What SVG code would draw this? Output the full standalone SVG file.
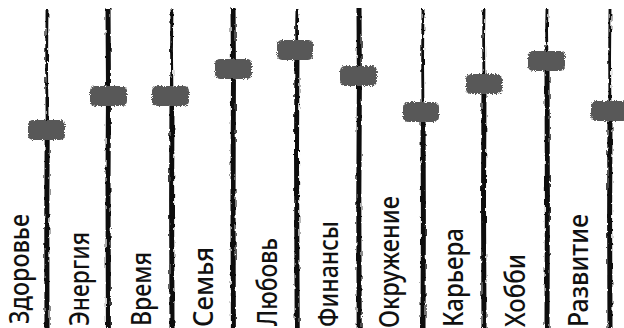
<svg xmlns="http://www.w3.org/2000/svg" width="624" height="328" viewBox="0 0 624 328">
  <style>
    .rail { fill: none; stroke: #0a0a0a; stroke-linecap: butt; }
    .thin { stroke-width: 2.8; }
    .thick { stroke-width: 5; }
    .knob { fill: #585858; }
    .label { font-family: "Noto Sans", "Open Sans", "DejaVu Sans", sans-serif; font-size: 27px; font-weight: 500; fill: #111; }
  </style>
  <defs>
    <!-- ink-like ragged edge for the rails -->
    <filter id="rough" filterUnits="userSpaceOnUse" x="0" y="0" width="624" height="328">
      <feTurbulence type="fractalNoise" baseFrequency="0.5 0.15" numOctaves="2" seed="3" result="n"/>
      <feDisplacementMap in="SourceGraphic" in2="n" scale="3.5" xChannelSelector="R" yChannelSelector="G"/>
    </filter>
    <!-- grainy edge for the slider knobs -->
    <filter id="grain" filterUnits="userSpaceOnUse" x="0" y="0" width="624" height="328">
      <feTurbulence type="fractalNoise" baseFrequency="0.9" numOctaves="2" seed="8" result="n"/>
      <feDisplacementMap in="SourceGraphic" in2="n" scale="4" xChannelSelector="R" yChannelSelector="G" result="d"/>
      <feGaussianBlur in="d" stdDeviation="0.5"/>
    </filter>
  </defs>

  <!-- rails: upper part above the knob, lower part below -->
  <g id="connectors" filter="url(#rough)">
    <path class="rail thin"  d="M47 9 L46.6 70 L47.2 130"/>
    <path class="rail thick" d="M47.2 130 L46.8 220 L47 328"/>
    <path class="rail thick" d="M108 8 L108.5 90 L108 180 L108.4 328"/>
    <path class="rail thin"  d="M172 9 L171.5 50 L172 96"/>
    <path class="rail thick" d="M172 96 L171.6 200 L172 328"/>
    <path class="rail thick" d="M233 8 L233.5 70 L233 200 L233.4 328"/>
    <path class="rail thin"  d="M297 9 L296.5 30 L297 49"/>
    <path class="rail thick" d="M297 49 L296.5 150 L297.2 328"/>
    <path class="rail thick" d="M359 8 L359.4 80 L358.8 200 L359.2 328"/>
    <path class="rail thin"  d="M423 9 L422.6 60 L423 112"/>
    <path class="rail thick" d="M423 112 L423.4 220 L423 328"/>
    <path class="rail thin"  d="M484 9 L483.6 40 L484 84"/>
    <path class="rail thick" d="M484 84 L483.5 200 L484 328"/>
    <path class="rail thin"  d="M547 9 L546.6 30 L547 61"/>
    <path class="rail thick" d="M547 61 L547.4 200 L547 328"/>
    <path class="rail thin"  d="M610 9 L609.6 60 L610 111"/>
    <path class="rail thick" d="M610 111 L609.6 220 L610 328"/>
  </g>

  <g id="zdorovie">
    <rect class="knob" filter="url(#grain)" x="28" y="120" width="37" height="20" rx="5"/>
    <text class="label" transform="translate(29 324) rotate(-90)" textLength="110" lengthAdjust="spacingAndGlyphs">Здоровье</text>
  </g>
  <g id="energiya">
    <rect class="knob" filter="url(#grain)" x="90" y="86" width="37" height="20" rx="5"/>
    <text class="label" transform="translate(89 326) rotate(-90)" textLength="94" lengthAdjust="spacingAndGlyphs">Энергия</text>
  </g>
  <g id="vremya">
    <rect class="knob" filter="url(#grain)" x="152" y="86" width="37" height="20" rx="5"/>
    <text class="label" transform="translate(151 326) rotate(-90)" textLength="74" lengthAdjust="spacingAndGlyphs">Время</text>
  </g>
  <g id="semya">
    <rect class="knob" filter="url(#grain)" x="215" y="59" width="37" height="20" rx="5"/>
    <text class="label" transform="translate(213 327) rotate(-90)" textLength="80" lengthAdjust="spacingAndGlyphs">Семья</text>
  </g>
  <g id="lyubov">
    <rect class="knob" filter="url(#grain)" x="277" y="40" width="36" height="20" rx="5"/>
    <text class="label" transform="translate(277 326) rotate(-90)" textLength="88" lengthAdjust="spacingAndGlyphs">Любовь</text>
  </g>
  <g id="finansy">
    <rect class="knob" filter="url(#grain)" x="340" y="66" width="37" height="20" rx="5"/>
    <text class="label" transform="translate(338 327) rotate(-90)" textLength="106" lengthAdjust="spacingAndGlyphs">Финансы</text>
  </g>
  <g id="okruzhenie">
    <rect class="knob" filter="url(#grain)" x="403" y="102" width="36" height="20" rx="5"/>
    <text class="label" transform="translate(399 328) rotate(-90)" textLength="132" lengthAdjust="spacingAndGlyphs">Окружение</text>
  </g>
  <g id="karera">
    <rect class="knob" filter="url(#grain)" x="466" y="74" width="36" height="20" rx="5"/>
    <text class="label" transform="translate(463 327) rotate(-90)" textLength="99" lengthAdjust="spacingAndGlyphs">Карьера</text>
  </g>
  <g id="khobbi">
    <rect class="knob" filter="url(#grain)" x="528" y="51" width="37" height="20" rx="5"/>
    <text class="label" transform="translate(525 327) rotate(-90)" textLength="73" lengthAdjust="spacingAndGlyphs">Хобби</text>
  </g>
  <g id="razvitie">
    <rect class="knob" filter="url(#grain)" x="591" y="101" width="37" height="20" rx="5"/>
    <text class="label" transform="translate(588 327) rotate(-90)" textLength="113" lengthAdjust="spacingAndGlyphs">Развитие</text>
  </g>
</svg>
